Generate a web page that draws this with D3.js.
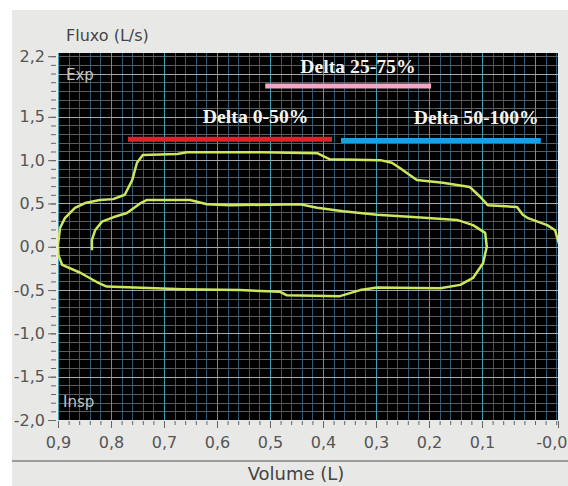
<!DOCTYPE html>
<html>
<head>
<meta charset="utf-8">
<script src="https://cdnjs.cloudflare.com/ajax/libs/d3/7.8.5/d3.min.js"></script>
<style>
  html, body { margin: 0; padding: 0; background: #fff; }
  svg { display: block; }
</style>
</head>
<body>
<svg id="chart" width="568" height="486"></svg>
<script>
/************************* Data *************************/
// flow-volume trace, in drawing order: [volume (L), flow (L/s)]
const traceVolume = [
  0.836, 0.836, 0.830, 0.817, 0.796, 0.770, 0.745, 0.732, 0.651, 0.619,
  0.575, 0.443, 0.411, 0.362, 0.298, 0.223, 0.147, 0.117, 0.094, 0.091,
  0.098, 0.117, 0.141, 0.179, 0.298, 0.330, 0.368, 0.468, 0.481, 0.557,
  0.664, 0.808, 0.826, 0.858, 0.892, 0.899, 0.900, 0.896, 0.887, 0.868,
  0.849, 0.821, 0.796, 0.774, 0.760, 0.751, 0.740, 0.675, 0.657, 0.513,
  0.411, 0.387, 0.292, 0.270, 0.255, 0.223, 0.174, 0.123, 0.104, 0.089,
  0.034, 0.023, 0.013, -0.023, -0.038, -0.043, -0.047
];
const traceFlow = [
  -0.04, 0.08, 0.19, 0.29, 0.34, 0.39, 0.50, 0.54, 0.54, 0.49,
  0.48, 0.49, 0.45, 0.41, 0.37, 0.34, 0.31, 0.25, 0.16, 0.00,
  -0.19, -0.36, -0.44, -0.48, -0.47, -0.50, -0.57, -0.56, -0.52, -0.50,
  -0.49, -0.46, -0.41, -0.30, -0.21, -0.10, 0.02, 0.22, 0.33, 0.45,
  0.505, 0.54, 0.55, 0.60, 0.77, 0.97, 1.06, 1.07, 1.09, 1.09,
  1.08, 1.01, 1.00, 0.97, 0.91, 0.77, 0.74, 0.69, 0.58, 0.48,
  0.46, 0.37, 0.33, 0.25, 0.19, 0.08, 0.00
];

// delta annotations
const deltaNames   = ["Delta 0-50%", "Delta 25-75%", "Delta 50-100%"];
const deltaFrom    = [0.768, 0.509, 0.366];
const deltaTo      = [0.383, 0.196, -0.011];
const deltaFlow    = [1.24, 1.857, 1.227];
const deltaLabelVol  = [0.527, 0.334, 0.111];
const deltaLabelFlow = [1.43, 2.005, 1.417];
const deltaColors  = ["#e3202c", "#f2a7c6", "#1c9fe0"];

// axes
const xDomain = [0.9, -0.0434];
const yDomain = [-2.0, 2.237];
const xTickValues = [0.9, 0.8, 0.7, 0.6, 0.5, 0.4, 0.3, 0.2, 0.1, -0.0434];
const xTickLabels = ["0,9", "0,8", "0,7", "0,6", "0,5", "0,4", "0,3", "0,2", "0,1", "-0,0"];
const yTickValues = [2.2, 1.5, 1.0, 0.5, 0.0, -0.5, -1.0, -1.5, -2.0];
const yTickLabels = ["2,2", "1,5", "1,0", "0,5", "0,0", "-0,5", "-1,0", "-1,5", "-2,0"];

/************************* Layout *************************/
const W = 568, H = 486;
const plot = {left: 58, right: 558, top: 53, bottom: 420};
const SANS = "'DejaVu Sans', Verdana, sans-serif";
const SERIF = "'Liberation Serif', 'Times New Roman', serif";

const svg = d3.select("#chart");

const x = d3.scaleLinear().domain(xDomain).range([plot.left, plot.right]);
const y = d3.scaleLinear().domain(yDomain).range([plot.bottom, plot.top]);
const crisp = v => Math.round(v) + 0.5;

// panel
svg.append("rect").attr("width", W).attr("height", H).attr("fill", "#ffffff");
svg.append("rect")
  .attr("x", 12).attr("y", 10).attr("width", W - 12).attr("height", H - 10)
  .attr("fill", "#e8e8e6");
svg.append("line")
  .attr("x1", 12).attr("x2", W).attr("y1", 461).attr("y2", 461)
  .attr("stroke", "#9c9c9c").attr("stroke-width", 2);

// plot background
svg.append("rect")
  .attr("x", plot.left).attr("y", plot.top)
  .attr("width", plot.right - plot.left).attr("height", plot.bottom - plot.top)
  .attr("fill", "#000");

svg.append("clipPath").attr("id", "plot-clip")
  .append("rect")
    .attr("x", plot.left).attr("y", plot.top)
    .attr("width", plot.right - plot.left).attr("height", plot.bottom - plot.top);

// grid
const grid = svg.append("g").attr("clip-path", "url(#plot-clip)");
const vSteps = d3.range(0, 48);   // every 0.02 L
const hSteps = d3.range(0, 43);   // every 0.1 L/s

grid.selectAll("line.vminor").data(vSteps.filter(i => i % 5)).join("line")
  .attr("x1", i => crisp(x(0.9 - i * 0.02))).attr("x2", i => crisp(x(0.9 - i * 0.02)))
  .attr("y1", plot.top).attr("y2", plot.bottom)
  .attr("stroke", "#2c5a78").attr("stroke-width", 1);
grid.selectAll("line.hminor").data(hSteps.filter(i => i % 5)).join("line")
  .attr("y1", i => crisp(y(-2 + i * 0.1))).attr("y2", i => crisp(y(-2 + i * 0.1)))
  .attr("x1", plot.left).attr("x2", plot.right)
  .attr("stroke", "#5c5c5c").attr("stroke-width", 1);
grid.selectAll("line.vmajor").data(vSteps.filter(i => i % 5 === 0)).join("line")
  .attr("x1", i => crisp(x(0.9 - i * 0.02))).attr("x2", i => crisp(x(0.9 - i * 0.02)))
  .attr("y1", plot.top).attr("y2", plot.bottom)
  .attr("stroke", "#3aa0b4").attr("stroke-width", 1);
grid.selectAll("line.hmajor").data(hSteps.filter(i => i % 5 === 0)).join("line")
  .attr("y1", i => crisp(y(-2 + i * 0.1))).attr("y2", i => crisp(y(-2 + i * 0.1)))
  .attr("x1", plot.left).attr("x2", plot.right)
  .attr("stroke", "#a8a8a8").attr("stroke-width", 1);

// axes
function styleAxis(g) {
  g.select(".domain").remove();
  g.selectAll(".tick line").attr("stroke", "#666");
  g.selectAll("text").attr("fill", "#555").attr("font-family", SANS).attr("font-size", 16);
}

const minorX = vSteps.map(i => 0.9 - i * 0.02);
const minorY = hSteps.map(i => -2 + i * 0.1);

svg.append("g").attr("transform", `translate(0,${plot.bottom + 1})`)
  .call(d3.axisBottom(x).tickValues(minorX).tickSize(4).tickFormat(""))
  .call(styleAxis);
const xAxis = svg.append("g").attr("transform", `translate(0,${plot.bottom + 1})`)
  .call(d3.axisBottom(x).tickValues(xTickValues).tickSize(7).tickPadding(9)
    .tickFormat((d, i) => xTickLabels[i]))
  .call(styleAxis);
// the end label sits against the window edge
xAxis.selectAll(".tick text").filter((d, i) => i === xTickValues.length - 1)
  .attr("text-anchor", "end").attr("dx", W - 1 - plot.right);

svg.append("g").attr("transform", `translate(${plot.left - 2},0)`)
  .call(d3.axisLeft(y).tickValues(minorY).tickSize(5).tickFormat(""))
  .call(styleAxis);
svg.append("g").attr("transform", `translate(${plot.left - 2},0)`)
  .call(d3.axisLeft(y).tickValues(yTickValues).tickSize(8).tickPadding(3)
    .tickFormat((d, i) => yTickLabels[i]))
  .call(styleAxis);

// axis titles
svg.append("text")
  .attr("x", 66).attr("y", 41)
  .attr("font-family", SANS).attr("font-size", 16).attr("fill", "#444")
  .text("Fluxo (L/s)");
svg.append("text")
  .attr("x", 296).attr("y", 480).attr("text-anchor", "middle")
  .attr("font-family", SANS).attr("font-size", 18).attr("fill", "#444")
  .text("Volume (L)");

// Exp / Insp markers
svg.append("text")
  .attr("x", 66).attr("y", 80)
  .attr("font-family", SANS).attr("font-size", 15).attr("fill", "#c4c4c4")
  .text("Exp");
svg.append("text")
  .attr("x", 63).attr("y", 407)
  .attr("font-family", SANS).attr("font-size", 15).attr("fill", "#c4c4c4")
  .text("Insp");

// trace
const line = d3.line()
  .x(i => x(traceVolume[i]))
  .y(i => y(traceFlow[i]));

svg.append("path")
  .attr("clip-path", "url(#plot-clip)")
  .attr("d", line(d3.range(traceVolume.length)))
  .attr("fill", "none")
  .attr("stroke", "#cde65c")
  .attr("stroke-width", 2.5)
  .attr("stroke-linejoin", "round");

// delta bars
const deltas = svg.append("g");
deltas.selectAll("line").data(deltaNames).join("line")
  .attr("x1", (d, i) => x(deltaFrom[i]))
  .attr("x2", (d, i) => x(deltaTo[i]))
  .attr("y1", (d, i) => y(deltaFlow[i]))
  .attr("y2", (d, i) => y(deltaFlow[i]))
  .attr("stroke", (d, i) => deltaColors[i])
  .attr("stroke-width", 5);

// labels are drawn a little wider than the serif font gives
deltas.selectAll("text").data(deltaNames).join("text")
  .attr("x", (d, i) => x(deltaLabelVol[i]))
  .attr("y", (d, i) => y(deltaLabelFlow[i]))
  .attr("text-anchor", "middle")
  .attr("font-family", SERIF).attr("font-weight", "bold").attr("font-size", 19)
  .attr("textLength", d => d.length * 9.6)
  .attr("lengthAdjust", "spacingAndGlyphs")
  .attr("fill", "#f6f4ec")
  .text(d => d);
</script>
</body>
</html>
